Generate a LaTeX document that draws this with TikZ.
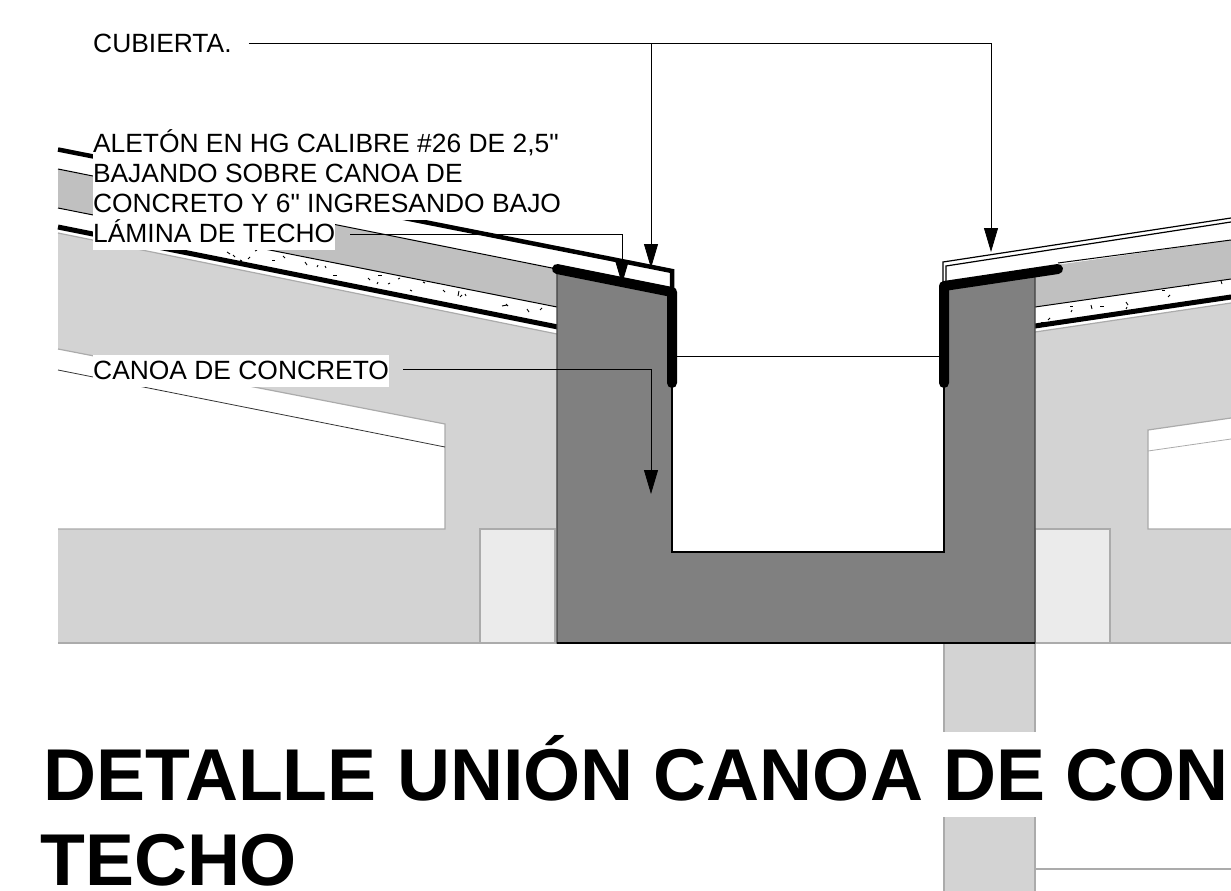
\documentclass[tikz,border=0pt]{standalone}
\usepackage{fontspec}
\setmainfont{Liberation Sans}
\newfontfamily\plainlabel{Liberation Sans}
\usetikzlibrary{arrows.meta}
\definecolor{conc}{HTML}{D3D3D3}
\definecolor{insul}{HTML}{C0C0C0}
\definecolor{canoa}{HTML}{808080}
\definecolor{pale}{HTML}{EBEBEB}
\definecolor{edge}{HTML}{ABABAB}
\tikzset{
  grayline/.style={draw=edge,line width=1.2pt},
  thin line/.style={draw=black,line width=1pt},
  heavy/.style={draw=black,line width=4.5pt},
  flashing/.style={draw=black,line width=10pt,line cap=round,line join=round},
  leader/.style={draw=black,line width=.8pt,-{Triangle[length=24pt,width=14pt]}},
  fleck/.style={draw=black,line width=.9pt},
  label/.style={font=\plainlabel\fontsize{26.4}{29.9}\selectfont,align=left,inner sep=0pt,anchor=base west,text=black},
  masked/.style={label,fill=white},
  heading/.style={font=\fontsize{73.4}{73.4}\selectfont\bfseries,inner sep=0pt,anchor=base west,text=black}
}
\begin{document}
\begin{tikzpicture}[x=1pt,y=-1pt]
\useasboundingbox (0,0) rectangle (1231,891);
\clip (0,0) rectangle (1231,891);
% concrete slab, left and right
\fill[conc] (58,233) -- (557,334) -- (557,643) -- (58,643) -- (58,529) -- (445,529) -- (445,424) -- (58,349) -- cycle;
\fill[conc] (1035,332) -- (1231,303) -- (1231,418) -- (1148,430) -- (1148,529) -- (1231,529) -- (1231,643) -- (1035,643) -- cycle;
% insulation bands
\fill[insul] (58,169) -- (557,269) -- (557,307) -- (58,208) -- cycle;
\fill[insul] (1035,268) -- (1231,240) -- (1231,279) -- (1035,307) -- cycle;
% column
\fill[conc] (944,643) rectangle (1035,891);
\draw[grayline] (944,643) -- (944,891) (1035,643) -- (1035,891);
\draw[grayline] (1035,869) -- (1231,869);
% pale blocks
\draw[grayline,fill=pale] (480,529) rectangle (555,643);
\draw[grayline,fill=pale] (1035,529) rectangle (1110,643);
% concrete edges
\draw[grayline] (58,233) -- (557,334);
\draw[grayline] (1035,332) -- (1231,303);
\draw[grayline] (58,349) -- (445,424) -- (445,529) -- (58,529);
\draw[grayline] (1231,418) -- (1148,430) -- (1148,529) -- (1231,529);
\draw[grayline,line width=.8pt] (1148,451) -- (1231,439);
\draw[grayline] (58,643) -- (557,643) (1035,643) -- (1231,643);
\draw[draw=black!80,line width=.8pt] (58,370) -- (445,447);
% insulation lines
\draw[thin line] (58,169) -- (557,269) (58,208) -- (557,307);
\draw[thin line] (1058,263) -- (1231,240) (1035,307) -- (1231,279);
% membrane
\draw[heavy,line width=5pt] (58,227) -- (558,327);
\draw[heavy,line width=5pt,line cap=round] (1035,326) -- (1231,297);
% flecks
\foreach \a/\b/\c/\d in {227/252/230/254, 233/255/235/257, 240/260/242/261, 248/259/250/257, 255/251/257/250, 272/260/275/260, 283/256/285/258, 305/262/307/265, 317/267/318/265, 325/266/326/268, 333/275/337/275, 368/278/370/280, 378/275/382/275, 377/284/378/282, 388/284/390/283, 398/279/400/278, 423/282/425/283, 410/290/412/291, 443/290/445/292, 459/291/458/296, 465/294/466/296, 460/297/462/295, 502/306/507/305, 506/304/508/306, 527/309/529/312, 540/310/542/308, 1041/322/1045/322, 1048/320/1050/318, 1070/306/1073/306, 1071/312/1072/310, 1091/305/1092/309, 1100/306/1104/306, 1126/302/1128/305, 1126/309/1127/307, 1162/290/1165/290, 1168/297/1170/295, 1188/285/1189/286, 1221/281/1222/284} {
  \draw[fleck] (\a,\b) -- (\c,\d);
}
% canoa de concreto
\draw[draw=black!75,line width=1.2pt,fill=canoa] (557,272) -- (672,293) -- (672,552) -- (944,552) -- (944,285) -- (1035,270) -- (1035,643) -- (557,643) -- cycle;
\draw[line width=1.5pt] (672,383) -- (672,552) -- (944,552) -- (944,383);
\draw[line width=1.5pt] (557,643) -- (1035,643);
\draw[line width=.8pt] (672,356) -- (944,356);
% roof sheet
\draw[heavy,line join=miter] (58,149.5) -- (672,271) -- (672,292);
\draw[line width=1.2pt] (943,285) -- (943,262) -- (1231,218);
\draw[line width=1.2pt] (946,285) -- (946,266) -- (1231,222);
% flashing
\draw[flashing] (557,269) -- (672,292) -- (672,383);
\draw[flashing] (944,383) -- (944,286) -- (1058,269);
% labels
\node[label,anchor=center,fill=white,text width=490pt,minimum height=88pt] (aleton) at (338,175) {\spaceskip=0pt\xspaceskip=0pt ALETÓN EN HG CALIBRE \#26 DE 2,5"\\BAJANDO SOBRE CANOA DE\\CONCRETO Y 6" INGRESANDO BAJO\rule[-8pt]{0pt}{8pt}};
\node[masked,text height=24.5pt,text depth=7.5pt] (lamina) at (93,242.5) {LÁMINA DE TECHO};
\node[masked,text height=24.5pt,text depth=7pt] (canoalabel) at (93,379.5) {CANOA DE CONCRETO};
\node[label] (cubierta) at (93,52.3) {CUBIERTA.};
% leaders
\coordinate (cubA) at (651,268);
\coordinate (cubB) at (991,252);
\coordinate (lamTip) at (622,284);
\coordinate (canTip) at (651,494);
\draw[leader] ([xshift=17pt,yshift=9.3pt]cubierta.base east) -| (cubA);
\draw[leader] ([xshift=17pt,yshift=9.3pt]cubierta.base east) -| (cubB);
\draw[leader] ([xshift=15pt,yshift=8.5pt]lamina.base east) -| (lamTip);
\draw[leader] ([xshift=14pt,yshift=10.5pt]canoalabel.base east) -| (canTip);
% title
\node[heading,fill=white,text height=69pt,text depth=16pt,text width=1300pt,align=left] (titleA) at (43.5,800.7) {\spaceskip=0pt\xspaceskip=0pt DETALLE UNIÓN CANOA DE CON};
\node[heading] (titleB) at (40,885) {TECHO};
\end{tikzpicture}
\end{document}
